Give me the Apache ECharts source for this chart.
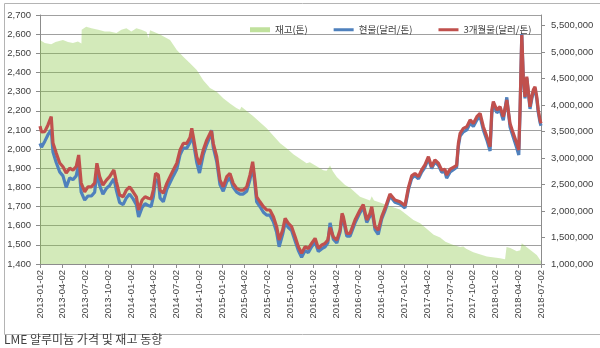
<!DOCTYPE html>
<html>
<head>
<meta charset="utf-8">
<script src="https://cdn.jsdelivr.net/npm/echarts@6/dist/echarts.min.js"></script>
<style>
html,body{margin:0;padding:0;background:#fff;}
#c{width:600px;height:348px;}
</style>
</head>
<body>
<div id="c"></div>
<script>
// ---- DATA ----
const xTickLabels = ['2013-01-02','2013-04-02','2013-07-02','2013-10-02','2014-01-02','2014-04-02','2014-07-02','2014-10-02',
  '2015-01-02','2015-04-02','2015-07-02','2015-10-02','2016-01-02','2016-04-02','2016-07-02','2016-10-02',
  '2017-01-02','2017-04-02','2017-07-02','2017-10-02','2018-01-02','2018-04-02','2018-07-02'];
const leftTicks = [1400,1500,1600,1700,1800,1900,2000,2100,2200,2300,2400,2500,2600,2700];
const rightTicks = [1000000,1500000,2000000,2500000,3000000,3500000,4000000,4500000,5000000,5500000];

const priceDates = ['2013-01-02','2013-01-08','2013-01-21','2013-02-03','2013-02-16','2013-02-23','2013-03-08','2013-03-22',
 '2013-04-04','2013-04-17','2013-05-01','2013-05-14','2013-05-27','2013-06-06','2013-06-16','2013-06-30','2013-07-13',
 '2013-07-27','2013-08-09','2013-08-18','2013-08-29','2013-09-11','2013-09-25','2013-10-08','2013-10-25','2013-11-04',
 '2013-11-17','2013-12-01','2013-12-14','2013-12-27','2014-01-10','2014-01-23','2014-02-01','2014-02-15','2014-02-27',
 '2014-03-12','2014-03-23','2014-04-01','2014-04-10','2014-04-21','2014-04-28','2014-05-11','2014-05-25','2014-06-07',
 '2014-06-20','2014-07-04','2014-07-17','2014-07-30','2014-08-13','2014-08-26','2014-09-02','2014-09-08','2014-09-22',
 '2014-10-03','2014-10-18','2014-11-01','2014-11-14','2014-11-20','2014-11-27','2014-12-11','2014-12-24','2015-01-06',
 '2015-01-20','2015-02-02','2015-02-15','2015-03-01','2015-03-14','2015-03-27','2015-04-10','2015-04-23','2015-05-04',
 '2015-05-13','2015-05-20','2015-06-02','2015-06-16','2015-06-29','2015-07-12','2015-07-26','2015-08-08','2015-08-18',
 '2015-09-01','2015-09-11','2015-09-24','2015-10-07','2015-10-21','2015-11-03','2015-11-16','2015-11-30','2015-12-13',
 '2015-12-26','2016-01-09','2016-01-22','2016-02-05','2016-02-18','2016-02-29','2016-03-09','2016-03-22','2016-04-05',
 '2016-04-18','2016-04-26','2016-05-01','2016-05-15','2016-05-28','2016-06-17','2016-07-07','2016-07-20','2016-08-03',
 '2016-08-16','2016-08-23','2016-09-05','2016-09-18','2016-10-02','2016-10-15','2016-11-04','2016-11-24','2016-12-14',
 '2017-01-03','2017-01-17','2017-01-30','2017-02-12','2017-02-26','2017-03-11','2017-03-24','2017-04-07','2017-04-20',
 '2017-05-03','2017-05-17','2017-05-30','2017-06-12','2017-06-19','2017-07-03','2017-07-16','2017-07-29','2017-08-05',
 '2017-08-12','2017-08-25','2017-09-08','2017-09-21','2017-10-04','2017-10-18','2017-10-31','2017-11-13','2017-11-27',
 '2017-12-10','2017-12-17','2017-12-23','2018-01-06','2018-01-19','2018-02-01','2018-02-15','2018-02-28','2018-03-13',
 '2018-03-27','2018-04-04','2018-04-09','2018-04-16','2018-04-22','2018-04-29','2018-05-06','2018-05-12','2018-05-19',
 '2018-05-26','2018-06-01','2018-06-08','2018-06-15','2018-06-21','2018-06-28','2018-07-02'];

const forwardValues = [2120,2090,2091,2126,2169,2032,1979,1927,
 1908,1875,1900,1890,1908,1969,1823,1777,1803,
 1803,1823,1926,1856,1812,1838,1856,1891,1829,
 1760,1751,1786,1803,1777,1751,1682,1734,1751,
 1743,1740,1786,1873,1865,1786,1770,1821,1856,
 1891,1926,1995,2030,2030,2060,2108,2065,1960,
 1920,1995,2047,2082,2095,2030,1960,1838,1803,
 1856,1873,1821,1795,1786,1786,1803,1864,1934,
 1838,1751,1725,1699,1682,1682,1647,1595,1525,
 1577,1638,1612,1595,1542,1490,1456,1490,1481,
 1508,1534,1482,1499,1508,1525,1590,1542,1525,
 1577,1664,1647,1560,1560,1630,1682,1710,1630,
 1664,1699,1595,1577,1647,1690,1765,1734,1725,
 1705,1800,1860,1873,1856,1891,1917,1960,1908,
 1943,1926,1891,1895,1865,1895,1905,1915,2030,
 2082,2108,2117,2152,2134,2169,2187,2117,2065,
 2012,2204,2248,2204,2221,2169,2256,2134,2082,
 2030,1995,2204,2596,2378,2273,2378,2308,2221,
 2273,2308,2325,2273,2204,2152,2134];

const spotValues = [2030,2010,2040,2075,2100,1985,1930,1880,
 1860,1800,1850,1840,1860,1920,1775,1734,1755,
 1755,1775,1880,1810,1765,1795,1810,1845,1785,
 1720,1710,1745,1765,1740,1710,1645,1695,1715,
 1705,1700,1750,1840,1835,1745,1725,1790,1825,
 1860,1895,1970,2005,2005,2035,2085,2040,1930,
 1875,1970,2025,2065,2099,2010,1935,1815,1780,
 1830,1850,1800,1775,1765,1765,1780,1840,1910,
 1815,1725,1700,1670,1655,1655,1620,1565,1490,
 1555,1615,1590,1575,1520,1470,1435,1470,1460,
 1490,1515,1465,1480,1490,1510,1615,1530,1510,
 1565,1650,1632,1545,1545,1615,1668,1697,1617,
 1650,1686,1580,1555,1635,1678,1755,1722,1713,
 1693,1788,1848,1862,1845,1880,1905,1950,1898,
 1932,1915,1880,1882,1848,1880,1892,1905,2015,
 2068,2090,2100,2135,2118,2152,2170,2100,2048,
 1990,2185,2235,2190,2205,2150,2270,2115,2062,
 2005,1969,2190,2600,2370,2265,2370,2298,2210,
 2262,2296,2312,2262,2192,2140,2122];

const stockDates = ['2013-01-02','2013-01-21','2013-02-16','2013-03-05','2013-04-04','2013-04-24','2013-05-14','2013-06-03',
 '2013-06-17','2013-06-18','2013-07-06','2013-07-27','2013-08-23','2013-09-19','2013-10-08','2013-11-04','2013-11-24',
 '2013-12-14','2014-01-03','2014-01-23','2014-02-12','2014-03-05','2014-03-12','2014-03-19','2014-04-28','2014-06-07',
 '2014-07-04','2014-07-30','2014-08-26','2014-09-22','2014-10-18','2014-11-14','2014-12-11','2015-01-06','2015-02-02',
 '2015-03-01','2015-03-14','2015-03-20','2015-05-04','2015-06-29','2015-08-22','2015-09-18','2015-10-14','2015-12-06',
 '2015-12-19','2016-02-11','2016-02-24','2016-03-09','2016-03-20','2016-04-05','2016-05-08','2016-05-28','2016-07-07',
 '2016-08-16','2016-08-23','2016-09-01','2016-09-25','2016-11-04','2016-12-14','2017-01-10','2017-02-06','2017-03-05',
 '2017-04-01','2017-04-28','2017-05-24','2017-06-14','2017-07-16','2017-08-12','2017-08-25','2017-09-05','2017-10-04',
 '2017-11-27','2018-01-19','2018-02-08','2018-02-14','2018-03-01','2018-03-27','2018-04-10','2018-04-16','2018-05-19',
 '2018-06-15','2018-07-02'];
const stockValues = [5230000,5170000,5150000,5190000,5230000,5190000,5170000,5200000,
 5160000,5420000,5480000,5450000,5420000,5390000,5390000,5360000,5420000,
 5450000,5390000,5450000,5420000,5380000,5260000,5410000,5330000,5230000,
 5040000,4910000,4790000,4660000,4470000,4320000,4250000,4130000,4030000,
 3940000,3910000,3970000,3800000,3560000,3280000,3180000,3070000,2900000,
 2920000,2770000,2760000,2860000,2750000,2640000,2490000,2440000,2270000,
 2200000,2280000,2200000,2160000,2090000,2030000,1930000,1830000,1770000,
 1660000,1550000,1500000,1420000,1360000,1320000,1330000,1290000,1220000,
 1140000,1110000,1090000,1320000,1300000,1240000,1260000,1390000,1270000,
 1170000,1050000];

const seriesNames = ['재고(톤)','현물(달러/톤)','3개월물(달러/톤)'];
const captionText = 'LME 알루미늄 가격 및 재고 동향';

// ---- CHART ----
const P = s => { const a = s.split('-').map(Number); return Date.UTC(a[0], a[1] - 1, a[2]); };
const pad = n => (n < 10 ? '0' : '') + n;
const fmtDate = v => { const d = new Date(v); return d.getUTCFullYear() + '-' + pad(d.getUTCMonth() + 1) + '-' + pad(d.getUTCDate()); };
const pair = (ds, vs) => ds.map((d, i) => [P(d), vs[i]]);
const fmtNum = v => Math.round(v).toString().replace(/\B(?=(\d{3})+(?!\d))/g, ',');
const FONT = "'Liberation Sans', 'Noto Sans CJK KR', sans-serif";
const KFONT = "'Noto Sans CJK KR', 'Liberation Sans', sans-serif";
const axisGray = '#8c8c8c';
const xTickValues = xTickLabels.map(P);

const chart = echarts.init(document.getElementById('c'), null, {renderer: 'canvas'});
chart.setOption({
  backgroundColor: '#ffffff',
  animation: false,
  grid: {left: 40, right: 59, top: 15, bottom: 84, containLabel: false, outerBoundsMode: 'none'},
  legend: {
    left: 245, top: 20, itemGap: 26, itemWidth: 20, itemHeight: 5, itemTextGap: 3,
    textStyle: {fontFamily: KFONT, fontSize: 9.5, color: '#404040'},
    data: [
      {name: seriesNames[0], icon: 'rect'},
      {name: seriesNames[1], icon: 'path://M0,0 H20 V3 H0 Z'},
      {name: seriesNames[2], icon: 'path://M0,0 H20 V3 H0 Z'}
    ]
  },
  xAxis: {
    type: 'value',
    min: xTickValues[0], max: xTickValues[xTickValues.length - 1],
    axisLine: {show: true, onZero: false, lineStyle: {color: axisGray, width: 1}},
    axisTick: {show: true, length: 4, lineStyle: {color: axisGray}, customValues: xTickValues},
    axisLabel: {
      customValues: xTickValues, rotate: 90, margin: 6,
      fontFamily: FONT, fontSize: 9.5, color: '#404040',
      formatter: v => fmtDate(v)
    },
    splitLine: {show: false}
  },
  yAxis: [
    {
      type: 'value', min: 1400, max: 2700, interval: 100, position: 'left',
      axisLine: {show: true, lineStyle: {color: axisGray}},
      axisTick: {show: true, length: 4, inside: false, lineStyle: {color: axisGray}},
      axisLabel: {margin: 9, fontFamily: FONT, fontSize: 9.5, color: '#404040', formatter: fmtNum},
      splitLine: {show: true, lineStyle: {color: '#a0a0a0', width: 1}}
    },
    {
      type: 'value', min: 1000000, max: 5700000, position: 'right',
      axisLine: {show: true, lineStyle: {color: axisGray}},
      axisTick: {show: true, length: 4, inside: false, lineStyle: {color: axisGray}, customValues: rightTicks},
      axisLabel: {customValues: rightTicks, margin: 10, fontFamily: FONT, fontSize: 9.5, color: '#404040', formatter: fmtNum},
      splitLine: {show: false}
    }
  ],
  series: [
    {
      name: seriesNames[0], type: 'line', yAxisIndex: 1, symbol: 'none',
      data: pair(stockDates, stockValues),
      lineStyle: {width: 0, color: 'rgba(130,195,60,0.5)'},
      itemStyle: {color: '#c0e19d'},
      areaStyle: {color: 'rgba(130,195,60,0.5)', origin: 'start'},
      z: 1
    },
    {
      name: seriesNames[1], type: 'line', yAxisIndex: 0, symbol: 'none',
      data: pair(priceDates, spotValues),
      lineStyle: {width: 3.2, color: '#4f81bd'}, itemStyle: {color: '#4f81bd'}, z: 3
    },
    {
      name: seriesNames[2], type: 'line', yAxisIndex: 0, symbol: 'none',
      data: pair(priceDates, forwardValues),
      lineStyle: {width: 3.2, color: '#c0504d'}, itemStyle: {color: '#c0504d'}, z: 4
    }
  ],
  graphic: [
    {type: 'rect', left: 2, top: 1, shape: {x: 0, y: 0, width: 596, height: 331},
     style: {fill: 'none', stroke: '#b4b4b4', lineWidth: 1}, silent: true, z: -1},
    {type: 'text', left: 4, top: 333,
     style: {text: captionText, font: "12px 'Noto Sans CJK KR', sans-serif", fill: '#404040'}}
  ]
});
</script>
</body>
</html>
